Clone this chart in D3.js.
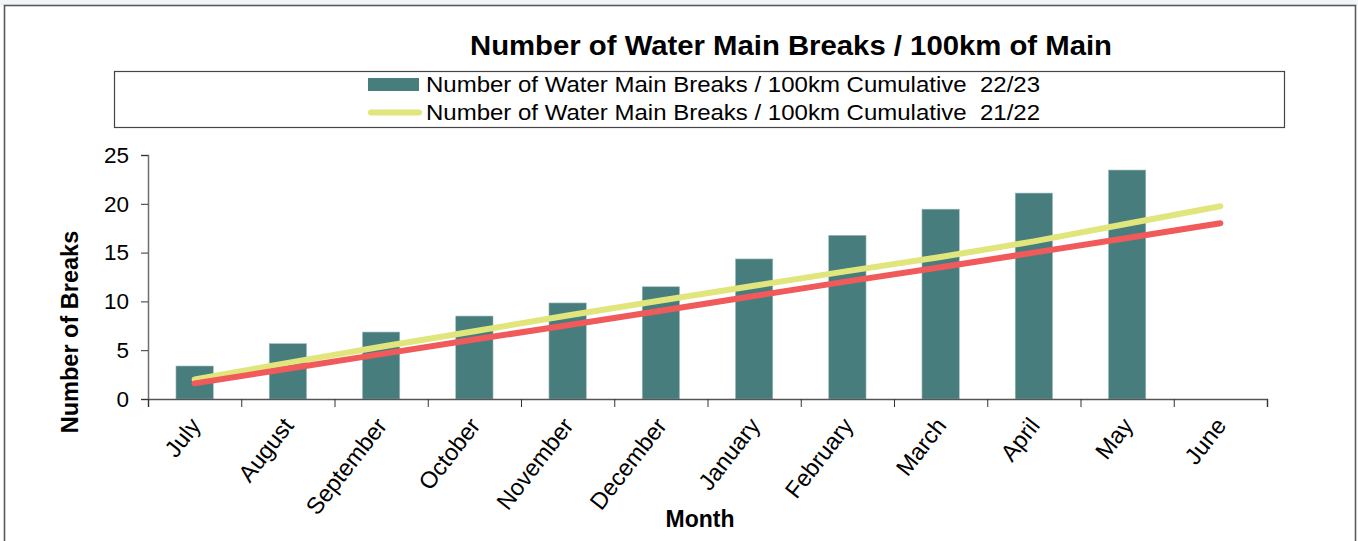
<!DOCTYPE html>
<html>
<head>
<meta charset="utf-8">
<script src="https://cdn.jsdelivr.net/npm/d3@7"></script>
<style>
  html, body { margin: 0; padding: 0; background: #ffffff; }
  svg { display: block; font-family: "Liberation Sans", Arial, sans-serif; }
  .pre { white-space: pre; }
</style>
</head>
<body>
<svg id="chart" width="1358" height="541"></svg>
<script>
const months = ["July", "August", "September", "October", "November", "December",
                "January", "February", "March", "April", "May", "June"];
const breaks2223 = [3.38, 5.67, 6.86, 8.5, 9.84, 11.5, 14.35, 16.77, 19.45, 21.1, 23.46, null];
const breaks2122 = [2.0, 3.7, 5.35, 6.95, 8.55, 10.1, 11.6, 13.1, 14.55, 16.15, 17.95, 19.75];
const target = [1.6, 3.1, 4.6, 6.1, 7.55, 9.05, 10.55, 12.05, 13.5, 15.0, 16.5, 18.0];
const yTicks = [0, 5, 10, 15, 20, 25];

const titleText = "Number of Water Main Breaks / 100km of Main";
const legendLabels = ["Number of Water Main Breaks / 100km Cumulative  22/23",
                      "Number of Water Main Breaks / 100km Cumulative  21/22"];
const yLabel = "Number of Breaks";
const xLabel = "Month";

const colBar = "#487d7d", colYellow = "#e0e67c", colRed = "#f05a5a";

const svg = d3.select("#chart");

// faint background strip above frame
svg.append("rect").attr("x", 0).attr("y", 0).attr("width", 1358).attr("height", 6).attr("fill", "#f1f4f9");
// outer frame
svg.append("rect").attr("x", 4.5).attr("y", 5.5).attr("width", 1351).attr("height", 560)
  .attr("fill", "#fff").attr("stroke", "#5a5a5a").attr("stroke-width", 1.6);

const plotL = 148, plotR = 1267, plotT = 155, plotB = 399;

const x = d3.scaleBand().domain(months).range([plotL, plotR]).paddingInner(0.6).paddingOuter(0.3);
const xi = d3.scaleLinear().domain([0, months.length]).range([plotL, plotR]);
const y = d3.scaleLinear().domain([0, 25]).range([plotB, plotT]);

// title
svg.append("text").attr("x", 791).attr("y", 55).attr("text-anchor", "middle")
  .attr("font-size", 28.5).attr("font-weight", "bold").attr("fill", "#000")
  .attr("textLength", 642).attr("lengthAdjust", "spacingAndGlyphs").text(titleText);

// legend box
svg.append("rect").attr("x", 114.5).attr("y", 71.5).attr("width", 1170).attr("height", 56)
  .attr("fill", "#fff").attr("stroke", "#444").attr("stroke-width", 1.2);
svg.append("rect").attr("x", 368).attr("y", 78).attr("width", 51).attr("height", 13).attr("fill", colBar);
svg.append("line").attr("x1", 371).attr("x2", 419).attr("y1", 112.5).attr("y2", 112.5)
  .attr("stroke", colYellow).attr("stroke-width", 6).attr("stroke-linecap", "round");
legendLabels.forEach((t, i) => {
  svg.append("text").attr("class", "pre").attr("x", 426).attr("y", 92 + i * 28).attr("font-size", 22).attr("fill", "#000")
    .attr("textLength", 614).attr("lengthAdjust", "spacingAndGlyphs").text(t);
});

// bars
svg.append("g").selectAll("rect").data(months.map((m, i) => ({m, v: breaks2223[i]})).filter(d => d.v != null))
  .join("rect")
  .attr("x", d => x(d.m)).attr("y", d => y(d.v))
  .attr("width", x.bandwidth()).attr("height", d => y(0) - y(d.v))
  .attr("fill", colBar).attr("stroke", "#9fbcbc").attr("stroke-width", 0.6);

// y axis
const yAxis = svg.append("g").attr("transform", `translate(${plotL},0)`)
  .call(d3.axisLeft(y).tickValues(yTicks).tickSize(7).tickPadding(12));
yAxis.select(".domain").attr("stroke", "#6e6e6e").attr("stroke-width", 1.5);
yAxis.selectAll(".tick line").attr("stroke", "#333");
yAxis.selectAll(".tick text").attr("font-size", 22.5).attr("fill", "#000")
  .attr("font-family", "'Liberation Sans', Arial, sans-serif");

// x axis (ticks at category boundaries)
const xAxis = svg.append("g").attr("transform", `translate(0,${plotB})`)
  .call(d3.axisBottom(xi).tickValues(d3.range(months.length + 1)).tickSize(8).tickFormat(""));
xAxis.select(".domain").attr("stroke", "#555").attr("stroke-width", 1.5);
xAxis.selectAll(".tick line").attr("stroke", "#333");

// x labels
svg.append("g").selectAll("text").data(months).join("text")
  .attr("transform", d => `translate(${x(d) + x.bandwidth() / 2 + 7},${plotB + 27}) rotate(-52)`)
  .attr("text-anchor", "end").attr("font-size", 23.5).attr("fill", "#000").text(d => d);

// lines
const line = d3.line().x((d, i) => x(months[i]) + x.bandwidth() / 2).y(d => y(d));
svg.append("path").datum(breaks2122).attr("d", line).attr("fill", "none")
  .attr("stroke", colYellow).attr("stroke-width", 6).attr("stroke-linecap", "round");
svg.append("path").datum(target).attr("d", line).attr("fill", "none")
  .attr("stroke", colRed).attr("stroke-width", 6).attr("stroke-linecap", "round");

// axis titles
svg.append("text").attr("transform", "translate(78,332) rotate(-90)").attr("text-anchor", "middle")
  .attr("font-size", 23.5).attr("font-weight", "bold").attr("fill", "#000").text(yLabel);
svg.append("text").attr("x", 700).attr("y", 527).attr("text-anchor", "middle")
  .attr("font-size", 23).attr("font-weight", "bold").attr("fill", "#000").text(xLabel);
</script>
</body>
</html>
